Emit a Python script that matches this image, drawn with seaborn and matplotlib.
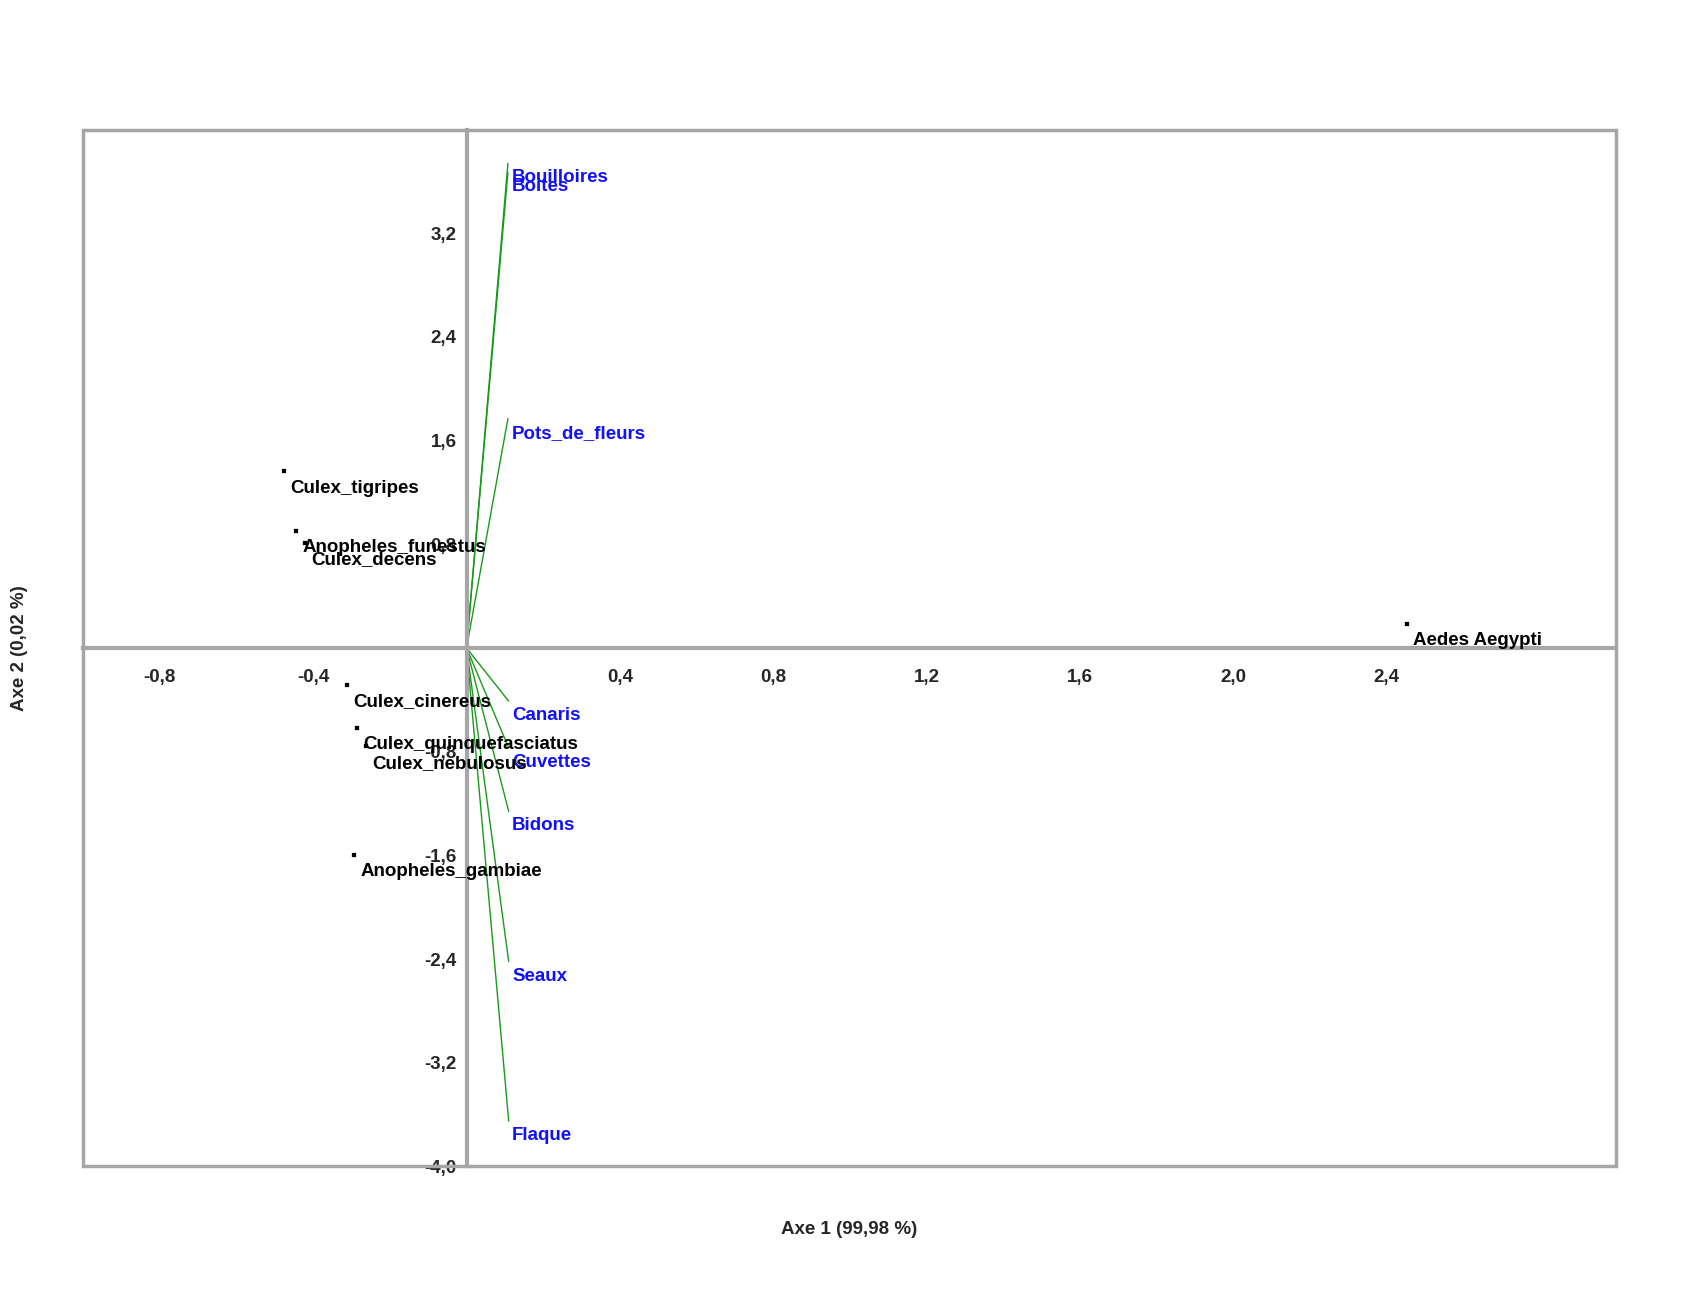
import matplotlib
matplotlib.use("Agg")
import matplotlib.pyplot as plt
import matplotlib.patches as patches
from matplotlib.ticker import FuncFormatter
import pandas as pd
import seaborn as sns

# species scores (axis 1, axis 2)
species = ["Culex_tigripes", "Anopheles_funestus", "Culex_decens", "Culex_cinereus",
           "Culex_quinquefasciatus", "Culex_nebulosus", "Anopheles_gambiae", "Aedes Aegypti"]
sp_x = [-0.476, -0.445, -0.422, -0.313, -0.285, -0.262, -0.293, 2.454]
sp_y = [1.363, 0.903, 0.81, -0.284, -0.619, -0.76, -1.597, 0.184]

# breeding site vectors
sites = ["Bouilloires", "Boites", "Pots_de_fleurs", "Canaris", "Cuvettes", "Bidons", "Seaux", "Flaque"]
site_x = [0.108, 0.108, 0.108, 0.11, 0.11, 0.11, 0.11, 0.11]
site_y = [3.74, 3.67, 1.77, -0.41, -0.77, -1.26, -2.42, -3.65]

xticks = [-0.8, -0.4, 0.4, 0.8, 1.2, 1.6, 2.0, 2.4]
yticks = [-4.0, -3.2, -2.4, -1.6, -0.8, 0.8, 1.6, 2.4, 3.2]

sns.set_style("white")
plt.rcParams['font.family'] = ['Liberation Sans', 'DejaVu Sans']
plt.rcParams['font.weight'] = 'bold'

fig = plt.figure(figsize=(16.98, 12.96), dpi=100)
ax = fig.add_axes([0.049, 0.100, 0.903, 0.800])

grey = "#a6a6a6"

# vectors
for x, y in zip(site_x, site_y):
    ax.plot([0, x], [0, y], color="#1a9a1a", lw=1.0, zorder=2)
for name, x, y in zip(sites, site_x, site_y):
    ax.annotate(name, (x, y), xytext=(2.5, -10.5), textcoords="offset points",
                color="#1010ff", fontsize=13.5, fontweight="bold", va="center", ha="left", zorder=4)

# species points
df = pd.DataFrame({"x": sp_x, "y": sp_y, "name": species})
sns.scatterplot(data=df, x="x", y="y", color="black", s=5, marker="s", edgecolor=None, ax=ax, zorder=3)
for name, x, y in zip(species, sp_x, sp_y):
    ax.annotate(name, (x, y), xytext=(4.5, -12), textcoords="offset points",
                color="black", fontsize=13.5, fontweight="bold", va="center", ha="left", zorder=4)

ax.set_xlim(-1.0, 3.0)
ax.set_ylim(-4.0, 4.0)

# axes through origin
for s in ["top", "right"]:
    ax.spines[s].set_visible(False)
ax.spines["left"].set_position(("data", 0))
ax.spines["bottom"].set_position(("data", 0))
for s in ["left", "bottom"]:
    ax.spines[s].set_color(grey)
    ax.spines[s].set_linewidth(3)
ax.add_patch(patches.Rectangle((0, 0), 1, 1, transform=ax.transAxes, fill=False,
                               edgecolor=grey, lw=2.5, clip_on=False, zorder=1))

fmt = FuncFormatter(lambda v, p: f"{v:.1f}".replace(".", ","))
ax.set_xticks(xticks)
ax.set_yticks(yticks)
ax.xaxis.set_major_formatter(fmt)
ax.yaxis.set_major_formatter(fmt)
ax.tick_params(axis="both", which="major", length=5, width=1, color=grey,
               labelsize=13.5, pad=10, direction="out")
ax.tick_params(axis="y", pad=2)
for lab in ax.get_xticklabels() + ax.get_yticklabels():
    lab.set_fontweight("bold")
ax.set_xlabel("")
ax.set_ylabel("")

fig.text(0.5, 0.051, "Axe 1 (99,98 %)", ha="center", va="center", fontsize=13.5, fontweight="bold")
fig.text(0.0115, 0.5, "Axe 2 (0,02 %)", ha="center", va="center", rotation=90, fontsize=13.5, fontweight="bold")

fig.savefig("out.png", dpi=100)
